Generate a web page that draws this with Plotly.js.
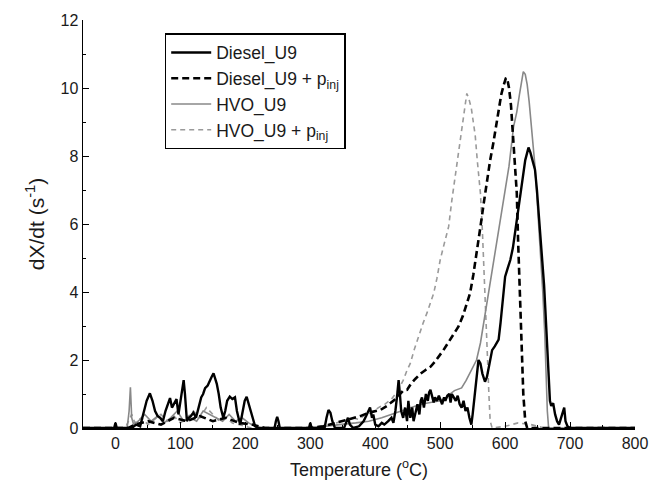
<!DOCTYPE html>
<html>
<head>
<meta charset="utf-8">
<script src="https://cdn.plot.ly/plotly-3.0.1.min.js"></script>
<style>html,body{margin:0;padding:0;background:#fff;}#chart{width:667px;height:495px;}</style>
</head>
<body>
<div id="chart"></div>
<script>
// Series data: [temperature (°C), dX/dt (1/s)]
const dieselU9 = [
  [-50,0],[-2,0],[0,0.15],[2,0],[25,0],[32,0.1],[38,0.05],[43,0.4],[48,0.8],[53,1.02],[57,0.8],[61,0.5],
  [65,0.35],[69,0.3],[73,0.2],[77,0.5],[81,0.7],[84,0.88],[87,0.6],[90,0.7],[94,0.85],[97,0.4],[100,0.8],
  [103,1.2],[105,1.41],[107,1.0],[110,0.2],[113,0.3],[116,0.35],[120,0.45],[124,0.3],[128,0.6],[132,0.9],
  [135,1.0],[138,1.17],[142,1.25],[145,1.4],[148,1.5],[151,1.61],[154,1.45],[156,1.3],[159,1.0],[162,0.6],
  [166,0.3],[169,0.5],[172,0.8],[176,0.92],[180,0.85],[184,0.9],[187,0.5],[190,0.2],[192,0.1],[195,0.4],
  [199,0.8],[202,0.92],[205,0.7],[208,0.5],[212,0.2],[215,0.05],[220,0],[245,0],[247,0.2],[249,0.33],
  [251,0.2],[253,0],[298,0],[300,0.15],[302,0],[322,0],[325,0.3],[328,0.53],[331,0.45],[334,0.2],[338,0],
  [352,0],[355,0.15],[358,0.3],[361,0.1],[366,0],[375,0.05],[382,0.2],[386,0.35],[390,0.55],[392,0.6],
  [395,0.3],[397,0.4],[400,0.1],[405,0.05],[410,0.15],[414,0.1],[420,0.2],[425,0.3],[428,0.15],[431,0.5],
  [434,1.0],[436,1.41],[438,1.0],[440,0.5],[443,0.3],[446,0.6],[449,0.2],[451,0.8],[454,0.3],[457,0.6],
  [459,0.2],[462,0.5],[465,0.7],[468,0.4],[470,0.8],[472,0.9],[475,0.6],[478,1.0],[481,0.8],[483,1.05],
  [485,1.12],[488,0.9],[490,0.75],[492,0.9],[495,0.8],[498,0.95],[500,0.85],[503,0.7],[506,0.9],[508,0.8],
  [511,0.95],[514,1.0],[516,0.75],[518,1.0],[521,0.9],[524,0.8],[527,0.95],[530,0.7],[533,0.6],[536,0.8],
  [539,0.5],[542,0.6],[545,0.3],[548,0.1],[550,0.4],[553,1.0],[556,1.6],[559,2.0],[562,1.9],[565,1.6],
  [569,1.36],[572,1.5],[576,1.9],[580,2.29],[584,2.4],[587,2.5],[590,2.6],[593,3.1],[596,3.7],[600,4.45],
  [604,4.7],[608,4.94],[612,5.3],[615,5.72],[619,6.3],[623,6.9],[627,7.4],[631,7.88],[634,8.1],[636,8.25],
  [639,8.1],[642,7.9],[646,7.6],[649,7.0],[651,6.5],[654,5.9],[657,5.0],[660,4.2],[662,3.47],[664,2.7],
  [667,1.5],[669,0.8],[671,0.65],[674,0.73],[677,0.4],[680,0.2],[683,0.1],[686,0.3],[689,0.5],[691,0.6],
  [693,0.2],[696,0.05],[700,0],[800,0]
];
const dieselU9Pinj = [
  [-50,0],[20,0],[30,0.1],[50,0.2],[70,0.1],[90,0.3],[110,0.2],[130,0.35],[150,0.2],[170,0.3],[190,0.15],
  [210,0.1],[230,0],[300,0],[320,0.05],[340,0.15],[360,0.25],[377,0.35],[390,0.45],[400,0.5],[408,0.53],
  [418,0.65],[428,0.8],[436,0.95],[443,1.1],[449,1.12],[455,1.3],[462,1.45],[470,1.6],[477,1.7],[485,1.8],
  [492,1.95],[500,2.15],[505,2.29],[512,2.5],[520,2.75],[528,2.98],[535,3.3],[541,3.65],[546,3.96],
  [551,4.5],[556,5.1],[562,5.92],[567,6.6],[572,7.3],[577,7.88],[582,8.4],[586,8.9],[590,9.35],[594,9.8],
  [598,10.1],[601,10.28],[603,10.3],[606,10.0],[609,9.5],[612,8.6],[615,7.9],[618,6.9],[620,5.5],
  [623,4.0],[626,2.5],[628,1.0],[631,0.2],[634,0],[800,0]
];
const hvoU9 = [
  [-50,0],[18,0],[21,0.5],[23,1.2],[25,0.3],[28,0.1],[35,0.2],[45,0.4],[55,0.2],[65,0.35],[75,0.15],
  [85,0.3],[95,0.5],[105,0.2],[115,0.3],[125,0.2],[135,0.5],[145,0.4],[155,0.3],[165,0.2],[175,0.4],
  [185,0.2],[195,0.3],[205,0.15],[215,0.05],[225,0],[300,0],[320,0.05],[345,0.1],[370,0.15],[390,0.2],
  [410,0.3],[425,0.4],[440,0.5],[455,0.6],[470,0.7],[485,0.75],[500,0.8],[510,0.9],[515,1.0],[522,1.1],
  [530,1.15],[533,1.18],[540,1.4],[548,1.7],[556,2.0],[562,2.5],[568,3.2],[574,3.96],[580,4.7],[586,5.4],
  [592,6.0],[600,6.9],[606,7.7],[613,8.86],[618,9.3],[622,9.8],[626,10.3],[628,10.48],[631,10.4],
  [634,10.1],[637,9.6],[640,9.0],[643,8.3],[646,7.7],[649,6.8],[652,5.9],[655,5.0],[658,4.0],[661,2.8],
  [663,1.6],[665,0.5],[667,0],[800,0]
];
const hvoU9Pinj = [
  [-50,0],[15,0],[20,0.2],[25,0.4],[30,0.15],[40,0.3],[50,0.1],[60,0.25],[70,0.4],[80,0.2],[90,0.35],
  [100,0.15],[110,0.3],[120,0.5],[130,0.3],[140,0.6],[150,0.4],[160,0.2],[170,0.3],[180,0.15],[190,0.1],
  [200,0.05],[210,0],[300,0],[330,0.1],[350,0.2],[365,0.3],[375,0.25],[385,0.4],[395,0.45],[405,0.6],
  [415,0.7],[425,0.85],[435,1.1],[443,1.4],[449,1.7],[454,1.9],[460,2.3],[465,2.6],[469,2.8],[474,3.1],
  [480,3.4],[487,3.76],[490,3.96],[495,4.4],[500,4.94],[506,5.4],[513,5.92],[518,6.7],[523,7.39],
  [528,8.1],[533,8.86],[537,9.4],[541,9.84],[544,9.7],[548,9.4],[551,9.0],[554,8.6],[557,7.9],[560,7.3],
  [562,6.9],[565,5.8],[567,4.94],[569,4.0],[571,3.0],[573,2.0],[575,1.0],[577,0.2],[580,0],[600,0.05],
  [620,0.15],[640,0.1],[660,0],[800,0]
];
const seriesNames = ["Diesel_U9", "Diesel_U9 + p<sub>inj</sub>", "HVO_U9", "HVO_U9 + p<sub>inj</sub>"];
const xTickVals = [0,100,200,300,400,500,600,700,800];
const yTickVals = [0,2,4,6,8,10,12];

function mk(data, name, color, width, dash, rank) {
  return {
    x: data.map(p => p[0]), y: data.map(p => p[1]),
    type: 'scatter', mode: 'lines', name: name, legendrank: rank,
    line: {color: color, width: width, dash: dash, shape: 'linear'}
  };
}
const traces = [
  mk(hvoU9Pinj, seriesNames[3], '#9a9a9a', 1.6, '5px,4px', 4),
  mk(hvoU9, seriesNames[2], '#888888', 1.6, 'solid', 3),
  mk(dieselU9Pinj, seriesNames[1], '#000000', 2.6, '7px,4px', 2),
  mk(dieselU9, seriesNames[0], '#000000', 2.4, 'solid', 1)
];
const font = {family: '"Liberation Sans", Arial, sans-serif', color: '#1a1a1a'};
const layout = {
  width: 667, height: 495,
  margin: {l: 83, r: 32, t: 20, b: 67},
  paper_bgcolor: '#ffffff', plot_bgcolor: '#ffffff',
  font: Object.assign({size: 16}, font),
  showlegend: true,
  legend: {
    x: 0.148, y: 0.968, xanchor: 'left', yanchor: 'top',
    bordercolor: '#000', borderwidth: 1.5, bgcolor: '#ffffff',
    font: Object.assign({size: 17.5}, font),
    traceorder: 'normal', itemwidth: 40, tracegroupgap: 0
  },
  xaxis: {
    range: [-50, 800], tickvals: xTickVals, ticks: 'inside', ticklen: 6, tickwidth: 1,
    tickcolor: '#000', showline: true, linecolor: '#000', linewidth: 1.5,
    showgrid: false, zeroline: false, mirror: false,
    minor: {tickvals: [-50,50,150,250,350,450,550,650,750], ticks: 'inside', ticklen: 3, tickcolor: '#000'},
    tickfont: Object.assign({size: 16}, font),
    title: {text: 'Temperature (<sup>o</sup>C)', font: Object.assign({size: 18}, font), standoff: 12}
  },
  yaxis: {
    range: [0, 12], tickvals: yTickVals, ticks: 'inside', ticklen: 6, tickwidth: 1,
    tickcolor: '#000', showline: true, linecolor: '#000', linewidth: 1.5,
    showgrid: false, zeroline: false, mirror: false,
    minor: {tickvals: [1,3,5,7,9,11], ticks: 'inside', ticklen: 3, tickcolor: '#000'},
    tickfont: Object.assign({size: 16}, font),
    title: {text: 'dX/dt (s<sup>-1</sup>)', font: Object.assign({size: 21}, font), standoff: 10}
  }
};
Plotly.newPlot('chart', traces, layout, {staticPlot: true, displayModeBar: false});
</script>
</body>
</html>
